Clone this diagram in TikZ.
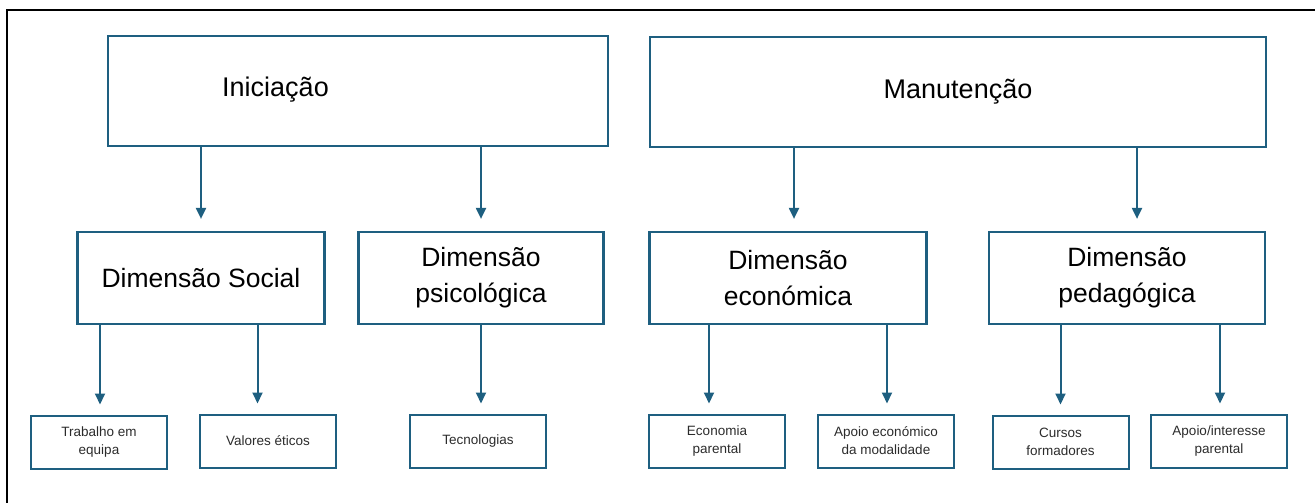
\documentclass[tikz,border=0pt]{standalone}
\usepackage{fontspec}
\setmainfont{Liberation Sans}
\usetikzlibrary{arrows.meta,calc}
\definecolor{boxblue}{HTML}{1E5F80}
\definecolor{smalltxt}{HTML}{2B2B2B}
\begin{document}
\begin{tikzpicture}[x=1pt,y=-1pt,
  topbox/.style={draw=boxblue,line width=2.2pt,minimum height=110pt,inner sep=0pt},
  midbox/.style={draw=boxblue,line width=2.2pt,minimum height=92pt,inner sep=0pt,align=center,
    font=\fontsize{26.5}{36}\selectfont},
  leafbox/.style={draw=boxblue,line width=2pt,minimum height=53pt,minimum width=136pt,inner sep=0pt,align=center,
    text=smalltxt,font=\fontsize{13.5}{18}\selectfont},
  arr/.style={draw=boxblue,line width=2pt,-{Triangle[length=11pt,width=10pt]}}]
\useasboundingbox (0,0) rectangle (1315,503);
% frame
\draw[line width=1.4pt] (7,503) -- (7,10) -- (1315,10);
% top boxes
\node[topbox,minimum width=500pt] (ini) at (358,91) {};
\node[font=\fontsize{27}{32}\selectfont] (initext) at (275.5,90) {Iniciação};
\node[topbox,minimum width=616pt,font=\fontsize{27}{32}\selectfont] (man) at (958,92) {Manutenção};
% middle boxes
\node[midbox,minimum width=247pt] (soc) at (201,278) {Dimensão Social};
\node[midbox,minimum width=245pt] (psi) at (481,278) {Dimensão\\psicológica};
\node[midbox,minimum width=277pt] (eco) at (788,278) {Dimensão\\económica};
\node[midbox,minimum width=276pt] (ped) at (1127,278) {Dimensão\\pedagógica};
% leaf boxes
\node[leafbox] (trab) at (99,442) {Trabalho em\\equipa};
\node[leafbox] (val) at (268,441) {Valores éticos};
\node[leafbox] (tec) at (478,441) {Tecnologias};
\node[leafbox] (econ) at (717,441) {Economia\\parental};
\node[leafbox] (apec) at (886,441) {Apoio económico\\da modalidade};
\node[leafbox] (cur) at (1060.5,442) {Cursos\\formadores};
\node[leafbox] (apin) at (1219,441) {Apoio/interesse\\parental};
% connector x positions
\coordinate (c1) at ([xshift=0pt,yshift=12pt]soc.north);
\coordinate (c2) at ([xshift=0pt,yshift=12pt]psi.north);
\coordinate (c3) at ([xshift=6pt,yshift=12pt]eco.north);
\coordinate (c4) at ([xshift=10pt,yshift=12pt]ped.north);
\coordinate (d1) at ([xshift=1pt,yshift=10pt]trab.north);
\coordinate (d2) at ([xshift=-10.5pt,yshift=10pt]val.north);
\coordinate (d3) at ([xshift=3pt,yshift=10pt]tec.north);
\coordinate (d4) at ([xshift=-8pt,yshift=10pt]econ.north);
\coordinate (d5) at ([xshift=1pt,yshift=10pt]apec.north);
\coordinate (d6) at ([xshift=0pt,yshift=10pt]cur.north);
\coordinate (d7) at ([xshift=1pt,yshift=10pt]apin.north);
% arrows
\draw[arr] (c1 |- ini.south) -- (c1);
\draw[arr] (c2 |- ini.south) -- (c2);
\draw[arr] (c3 |- man.south) -- (c3);
\draw[arr] (c4 |- man.south) -- (c4);
\draw[arr] (d1 |- soc.south) -- (d1);
\draw[arr] (d2 |- soc.south) -- (d2);
\draw[arr] (d3 |- psi.south) -- (d3);
\draw[arr] (d4 |- eco.south) -- (d4);
\draw[arr] (d5 |- eco.south) -- (d5);
\draw[arr] (d6 |- ped.south) -- (d6);
\draw[arr] (d7 |- ped.south) -- (d7);
\end{tikzpicture}
\end{document}
